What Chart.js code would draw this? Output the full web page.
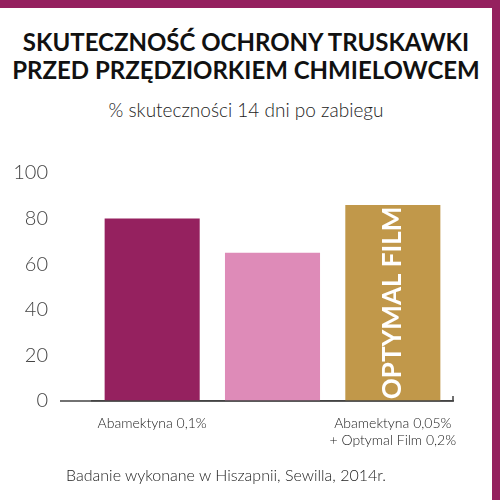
<!DOCTYPE html>
<html lang="pl">
<head>
  <meta charset="UTF-8">
  <title>Skuteczność ochrony truskawki</title>
  <script src="https://cdn.jsdelivr.net/npm/chart.js"></script>
  <style>
    body { margin: 0; background: #fff; font-family: Lato, sans-serif; }
    .frame { position: relative; width: 500px; height: 500px; overflow: hidden; }
    .bar-top { position: absolute; left: 0; top: 0; width: 500px; height: 8px; background: #95215f; }
    .bar-right { position: absolute; right: 0; top: 0; width: 8px; height: 500px; background: #95215f; }
    .title { position: absolute; top: 28px; left: 0; width: 492px; text-align: center; font-weight: bold; font-size: 24px; line-height: 28px; color: #111; }
    .subtitle { position: absolute; top: 98px; left: 0; width: 492px; text-align: center; font-size: 19px; font-weight: 300; color: #222; }
    .note { position: absolute; top: 465px; left: 66px; font-size: 16px; font-weight: 300; color: #222; }
    canvas { position: absolute; left: 0; top: 0; }
  </style>
</head>
<body>
  <div class="frame">
    <div class="bar-top"></div>
    <div class="bar-right"></div>
    <div class="title">SKUTECZNOŚĆ OCHRONY TRUSKAWKI<br>PRZED PRZĘDZIORKIEM CHMIELOWCEM</div>
    <div class="subtitle">% skuteczności 14 dni po zabiegu</div>
    <div style="position:absolute;left:0;top:0;width:492px;height:500px"><canvas id="chart"></canvas></div>
    <div class="note">Badanie wykonane w Hiszapnii, Sewilla, 2014r.</div>
  </div>
  <script>
    const categories = [['Abamektyna 0,1%'], ['Abamektyna 0,05%'], ['Abamektyna 0,05%', '+ Optymal Film 0,2%']];
    const values = [80, 65, 86];
    const colors = ['#95215f', '#de8bb8', '#c1984a'];
    const barLabel = 'OPTYMAL FILM';

    // white rotated label inside the last bar, axis line extension and right-end tick
    const barText = {
      id: 'barText',
      afterDatasetsDraw(chart) {
        const ctx = chart.ctx;
        const bar = chart.getDatasetMeta(0).data[2];
        ctx.save();
        ctx.translate(bar.x, (bar.y + bar.base) / 2);
        ctx.rotate(-Math.PI / 2);
        ctx.fillStyle = '#fff';
        ctx.font = 'bold 26px Lato';
        ctx.textAlign = 'center';
        ctx.textBaseline = 'middle';
        ctx.fillText(barLabel, 0, 0);
        ctx.restore();
        const a = chart.chartArea;
        ctx.save();
        ctx.strokeStyle = '#444';
        ctx.lineWidth = 1.5;
        ctx.beginPath();
        ctx.moveTo(60, a.bottom);
        ctx.lineTo(a.right, a.bottom);
        ctx.lineTo(a.right, a.bottom - 5);
        ctx.stroke();
        ctx.restore();
      }
    };

    new Chart(document.getElementById('chart'), {
      type: 'bar',
      data: {
        labels: categories,
        datasets: [{ data: values, backgroundColor: colors, categoryPercentage: 1, barPercentage: 0.79 }]
      },
      options: {
        responsive: true,
        maintainAspectRatio: false,
        animation: false,
        layout: { padding: { top: 173, right: 39, left: 0, bottom: 0 } },
        plugins: { legend: { display: false }, tooltip: { enabled: false } },
        scales: {
          x: {
            grid: { display: false },
            border: { color: '#444', width: 1.5 },
            ticks: { color: '#222', font: { family: 'Lato', size: 14, weight: 300 }, maxRotation: 0, padding: 6 },
            afterFit(s) { s.height = 99; }
          },
          y: {
            min: 0, max: 100,
            grid: { display: false },
            border: { display: false },
            ticks: { stepSize: 20, color: '#444', font: { family: 'Lato', size: 20, weight: 300 }, padding: 36 },
            afterFit(s) { s.width = 92; }
          }
        }
      },
      plugins: [barText]
    });
  </script>
</body>
</html>
